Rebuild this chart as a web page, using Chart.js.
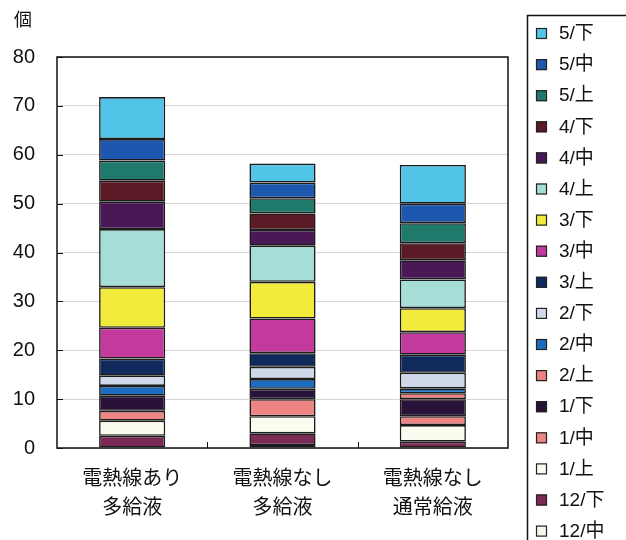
<!DOCTYPE html>
<html>
<head>
<meta charset="utf-8">
<script src="https://cdn.jsdelivr.net/npm/chart.js@4"></script>
<style>
  html, body { margin: 0; padding: 0; background: #fff; overflow: hidden; }
  #wrap { width: 626px; height: 540px; }
</style>
</head>
<body>
<div id="wrap"><canvas id="chart" width="626" height="540"></canvas></div>
<script>
// 時期ごとの個数 (下から 12/中 → 5/下 の順に積む)
const categories = [["電熱線あり", "多給液"], ["電熱線なし", "多給液"], ["電熱線なし", "通常給液"]];
const periods = ["12/中", "12/下", "1/上", "1/中", "1/下", "2/上", "2/中", "2/下", "3/上", "3/中", "3/下", "4/上", "4/中", "4/下", "5/上", "5/中", "5/下"];
const colors = ["#f7f7f2", "#7b2a55", "#fbfcf0", "#ee8585", "#28123a", "#ef8080", "#1b6cbf", "#cfd9ea", "#112a5c", "#c23a9b", "#f3eb3c", "#a6ddd6", "#4a1757", "#5b1b26", "#1f7a6c", "#1e58ae", "#52c4e8"];
const heatedMany = [0, 2.5, 3.1, 2.0, 3.1, 0, 2.0, 2.1, 3.5, 6.3, 8.3, 11.9, 5.6, 4.3, 4.1, 4.4, 8.6];
const unheatedMany = [0.6, 2.4, 3.5, 3.5, 2.1, 0, 2.0, 2.5, 2.8, 7.1, 7.5, 7.4, 3.2, 3.4, 3.1, 3.2, 3.9];
const unheatedNormal = [0, 1.3, 3.4, 1.8, 3.5, 1.2, 1.0, 3.2, 3.7, 4.6, 4.9, 5.9, 3.9, 3.5, 4.1, 4.0, 7.9];
const yTicks = [0, 10, 20, 30, 40, 50, 60, 70, 80];

const FONT = "'Liberation Sans', 'Noto Sans CJK JP', sans-serif";

const datasets = periods.map((p, i) => ({
    label: p,
    data: [heatedMany[i], unheatedMany[i], unheatedNormal[i]],
    backgroundColor: colors[i],
    borderColor: "#1c1c1c",
    borderWidth: 1.6,
    borderSkipped: false,
    categoryPercentage: 1,
    barPercentage: 0.44
}));

// 枠線・内向きの目盛り・単位・凡例を描く
const framePlugin = {
    id: "frame",
    afterDraw(chart) {
        const ctx = chart.ctx;
        const a = chart.chartArea;
        const x = chart.scales.x, y = chart.scales.y;
        ctx.save();
        ctx.strokeStyle = "#111";
        ctx.lineWidth = 1.5;
        ctx.strokeRect(a.left, a.top, a.right - a.left, a.bottom - a.top);

        ctx.lineWidth = 1;
        ctx.beginPath();
        yTicks.forEach(v => {
            const py = Math.round(y.getPixelForValue(v)) + 0.5;
            ctx.moveTo(a.left, py);
            ctx.lineTo(a.left + 6, py);
        });
        for (let i = 1; i < categories.length; i++) {
            const px = Math.round((x.getPixelForValue(i - 1) + x.getPixelForValue(i)) / 2) + 0.5;
            ctx.moveTo(px, a.bottom);
            ctx.lineTo(px, a.bottom - 6);
        }
        ctx.stroke();

        ctx.fillStyle = "#111";
        ctx.font = "18px " + FONT;
        ctx.textAlign = "center";
        ctx.textBaseline = "middle";
        ctx.fillText("個", 23, 21);

        // 凡例 (上から 5/下)
        ctx.lineWidth = 1.5;
        ctx.strokeRect(527.5, 15.5, 120, 560);
        ctx.font = "19px " + FONT;
        ctx.textAlign = "left";
        const ds = chart.data.datasets;
        for (let k = 0; k < ds.length; k++) {
            const d = ds[ds.length - 1 - k];
            const cy = 33 + k * 31.1;
            ctx.fillStyle = d.backgroundColor;
            ctx.fillRect(536, cy - 5, 11, 11);
            ctx.lineWidth = 1.2;
            ctx.strokeStyle = "#222";
            ctx.strokeRect(536.5, cy - 4.5, 10, 10);
            ctx.fillStyle = "#111";
            ctx.fillText(d.label, 559, cy + 1);
        }
        ctx.restore();
    }
};

new Chart("chart", {
    type: "bar",
    data: {
        labels: categories,
        datasets: datasets
    },
    options: {
        responsive: false,
        animation: false,
        layout: {
            padding: { top: 57, right: 118, left: 0, bottom: 0 }
        },
        plugins: {
            legend: false,
            tooltip: { enabled: false }
        },
        scales: {
            x: {
                stacked: true,
                afterFit(scale) { scale.height = 92; },
                grid: { display: false },
                border: { display: false },
                ticks: {
                    color: "#111",
                    padding: 9,
                    font: { family: FONT, size: 20, lineHeight: 1.45 }
                }
            },
            y: {
                stacked: true,
                min: 0,
                max: 80,
                afterFit(scale) { scale.width = 57; },
                grid: { color: "#d6d6d6", lineWidth: 1, drawTicks: false },
                border: { display: false },
                ticks: {
                    stepSize: 10,
                    color: "#111",
                    padding: 22,
                    font: { family: FONT, size: 20 }
                }
            }
        }
    },
    plugins: [framePlugin]
});
</script>
</body>
</html>
